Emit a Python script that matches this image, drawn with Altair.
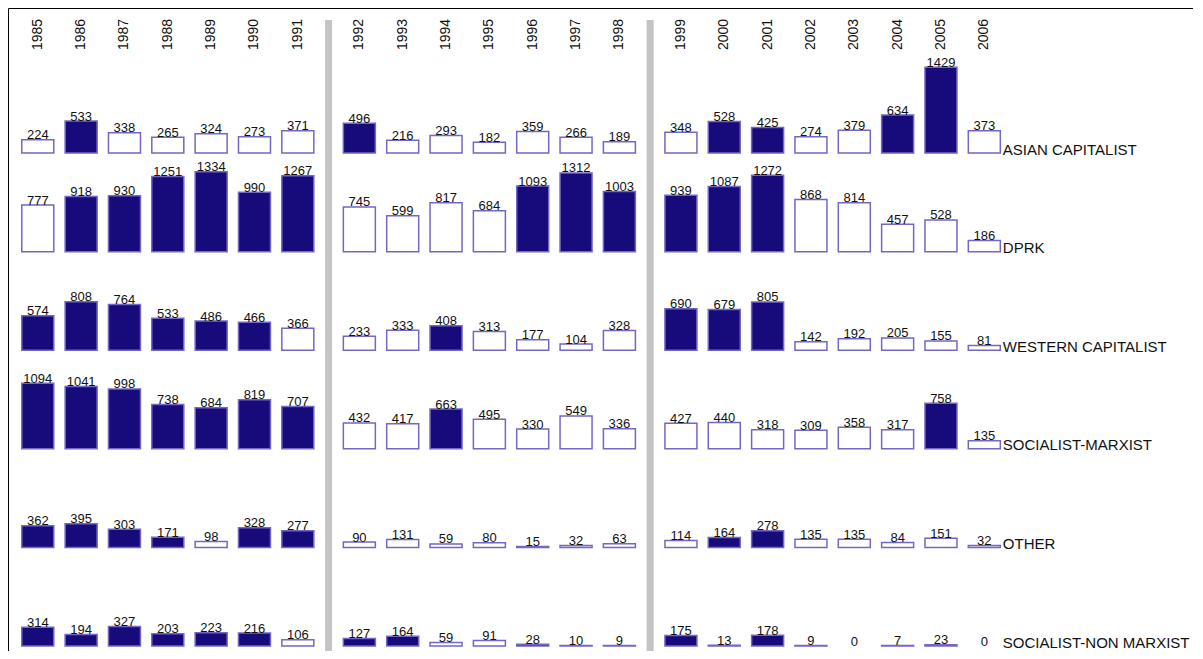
import altair as alt
import pandas as pd

years = list(range(1985, 2007))
categories = ["ASIAN CAPITALIST", "DPRK", "WESTERN CAPITALIST",
              "SOCIALIST-MARXIST", "OTHER", "SOCIALIST-NON MARXIST"]

asian = [224, 533, 338, 265, 324, 273, 371, 496, 216, 293, 182, 359, 266, 189,
         348, 528, 425, 274, 379, 634, 1429, 373]
asian_filled = [0, 1, 0, 0, 0, 0, 0, 1, 0, 0, 0, 0, 0, 0, 0, 1, 1, 0, 0, 1, 1, 0]

dprk = [777, 918, 930, 1251, 1334, 990, 1267, 745, 599, 817, 684, 1093, 1312, 1003,
        939, 1087, 1272, 868, 814, 457, 528, 186]
dprk_filled = [0, 1, 1, 1, 1, 1, 1, 0, 0, 0, 0, 1, 1, 1, 1, 1, 1, 0, 0, 0, 0, 0]

western = [574, 808, 764, 533, 486, 466, 366, 233, 333, 408, 313, 177, 104, 328,
           690, 679, 805, 142, 192, 205, 155, 81]
western_filled = [1, 1, 1, 1, 1, 1, 0, 0, 0, 1, 0, 0, 0, 0, 1, 1, 1, 0, 0, 0, 0, 0]

soc_marx = [1094, 1041, 998, 738, 684, 819, 707, 432, 417, 663, 495, 330, 549, 336,
            427, 440, 318, 309, 358, 317, 758, 135]
soc_marx_filled = [1, 1, 1, 1, 1, 1, 1, 0, 0, 1, 0, 0, 0, 0, 0, 0, 0, 0, 0, 0, 1, 0]

other = [362, 395, 303, 171, 98, 328, 277, 90, 131, 59, 80, 15, 32, 63,
         114, 164, 278, 135, 135, 84, 151, 32]
other_filled = [1, 1, 1, 1, 0, 1, 1, 0, 0, 0, 0, 0, 0, 0, 0, 1, 1, 0, 0, 0, 0, 0]

soc_nonmarx = [314, 194, 327, 203, 223, 216, 106, 127, 164, 59, 91, 28, 10, 9,
               175, 13, 178, 9, 0, 7, 23, 0]
soc_nonmarx_filled = [1, 1, 1, 1, 1, 1, 0, 1, 1, 0, 0, 1, 0, 0, 1, 0, 1, 0, 0, 0, 1, 0]

period_boundaries = [1991.5, 1998.5]

series = [asian, dprk, western, soc_marx, other, soc_nonmarx]
fills = [asian_filled, dprk_filled, western_filled, soc_marx_filled,
         other_filled, soc_nonmarx_filled]

records = []
for r, (cat, vals, fl) in enumerate(zip(categories, series, fills)):
    for y, v, f in zip(years, vals, fl):
        records.append({"category": cat, "row": r, "year": y, "value": v,
                        "filled": "filled" if f else "outline"})
df = pd.DataFrame(records)
sep_df = pd.DataFrame({"boundary": period_boundaries})
year_df = pd.DataFrame({"year": years})

NAVY = "#170b7c"
STROKE = "#7466c4"
GAP = 0.42
ROW_SPAN = 1643
W, H = 1185, 643

pos_expr = (f"datum.year - 1985 + (datum.year >= 1992 ? {GAP} : 0)"
            f" + (datum.year >= 1999 ? {GAP} : 0)")

x_scale = alt.Scale(domain=[-0.572, 26.54], nice=False, zero=False)
y_scale = alt.Scale(domain=[-83, 10633], nice=False, zero=False)

x_enc = alt.X("pos:Q", scale=x_scale, axis=None)

base = (alt.Chart(df)
        .transform_calculate(pos=pos_expr, base=f"(5 - datum.row) * {ROW_SPAN}")
        .transform_calculate(top="datum.base + datum.value"))

seps = (alt.Chart(sep_df)
        .transform_calculate(
            pos=f"datum.boundary - 1985 + {GAP / 2} + (datum.boundary > 1998 ? {GAP} : 0)")
        .mark_rule(color="#c4c4c4", strokeWidth=7)
        .encode(x=x_enc, y=alt.value(12), y2=alt.value(H)))

year_labels = (alt.Chart(year_df)
               .transform_calculate(pos=pos_expr)
               .mark_text(angle=270, align="left", baseline="middle",
                          font="Liberation Sans", fontSize=14, color="#111111")
               .encode(x=x_enc, y=alt.value(42), text="year:N"))

bars = (base.transform_filter("datum.value > 0")
        .mark_bar(size=32, stroke=STROKE, strokeWidth=1.5)
        .encode(x=x_enc,
                y=alt.Y("top:Q", scale=y_scale, axis=None),
                y2="base:Q",
                fill=alt.Fill("filled:N",
                              scale=alt.Scale(domain=["outline", "filled"],
                                              range=["#ffffff", NAVY]),
                              legend=None)))

values = (base.mark_text(baseline="alphabetic", dy=-0.5,
                         font="Liberation Sans Narrow, Liberation Sans, Arial, sans-serif",
                         fontSize=13, color="#111111")
          .encode(x=x_enc, y=alt.Y("top:Q", scale=y_scale, axis=None),
                  text="value:Q"))

cat_labels = (base.transform_filter("datum.year == 2006")
              .mark_text(align="left", baseline="alphabetic", dx=18.5, dy=1.5,
                         font="Liberation Sans", fontSize=15, color="#111111")
              .encode(x=x_enc, y=alt.Y("base:Q", scale=y_scale, axis=None),
                      text="category:N"))

chart = (alt.layer(seps, year_labels, bars, values, cat_labels)
         .properties(width=W, height=H,
                     autosize=alt.AutoSizeParams(type="none"),
                     padding={"left": 0, "top": 0, "right": 0, "bottom": 0})
         .configure_view(stroke="#000000", strokeWidth=1))

chart.save("out.html", embed_options={"renderer": "svg", "actions": False})
